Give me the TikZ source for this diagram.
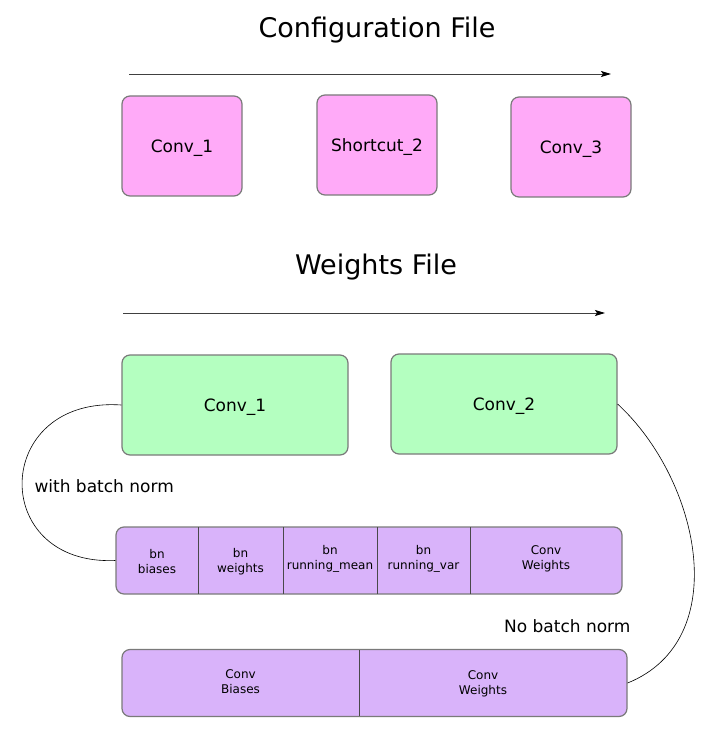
\documentclass[tikz,border=0pt]{standalone}
\usepackage{fontspec}
\setmainfont{DejaVu Sans}
\usetikzlibrary{arrows.meta}

\definecolor{cfgpink}{HTML}{FFAAF8}
\definecolor{wgtgreen}{HTML}{B4FFC0}
\definecolor{bufpurple}{HTML}{D9B3FA}
\definecolor{boxedge}{HTML}{7A7A7A}

\tikzset{
    layerbox/.style={draw=boxedge, line width=1.2pt, rounded corners=8pt, inner sep=0pt},
    cfgbox/.style={layerbox, fill=cfgpink, minimum width=120pt, minimum height=100pt, text depth=0pt, font=\fontsize{17}{20}\selectfont},
    wgtbox/.style={layerbox, fill=wgtgreen, minimum width=226pt, minimum height=100pt, text depth=0pt, font=\fontsize{17}{20}\selectfont},
    bufbar/.style={layerbox, fill=bufpurple, minimum height=67pt},
    celltext/.style={align=center, font=\fontsize{12}{15}\selectfont},
    titletext/.style={font=\fontsize{27}{32}\selectfont},
    notetext/.style={font=\fontsize{17}{20}\selectfont},
    flowarrow/.style={draw=black!75, line width=0.9pt, -{Stealth[length=10pt,width=6pt,inset=2pt,black]}}
}

\begin{document}
\begin{tikzpicture}[x=1pt, y=-1pt]
    \useasboundingbox (0,0) rectangle (719,743);

    % configuration file
    \node[titletext] (cfgtitle) at (377,30) {Configuration File};
    \coordinate (cfgstart) at (129,74);
    \coordinate (cfgend) at (611,74);
    \draw[flowarrow] (cfgstart) -- (cfgend);

    \node[cfgbox] (cconv1) at (182,146) {Conv\_1};
    \node[cfgbox] (cshort2) at (377,145) {Shortcut\_2};
    \node[cfgbox] (cconv3) at (571,147) {Conv\_3};

    % weights file
    \node[titletext] (wgttitle) at (376,267) {Weights File};
    \coordinate (wgtstart) at (123,313);
    \coordinate (wgtend) at (605,313);
    \draw[flowarrow] (wgtstart) -- (wgtend);

    \node[wgtbox] (wconv1) at (235,405) {Conv\_1};
    \node[wgtbox] (wconv2) at (504,404) {Conv\_2};

    % with batch norm
    \node[bufbar, minimum width=506pt] (bnbar) at (369,560.5) {};
    \foreach \xdiv in {198,283,377,470}
        \draw[boxedge!60!black, line width=0.9pt] (\xdiv,527) -- (\xdiv,594);
    \node[celltext] (bnbias) at (157,562) {bn\\biases};
    \node[celltext] (bnweight) at (240.5,562) {bn\\weights};
    \node[celltext] (bnmean) at (330,558.5) {bn\\running\_mean};
    \node[celltext] (bnvar) at (423.5,558.5) {bn\\running\_var};
    \node[celltext] (bnconvw) at (546,558.5) {Conv\\Weights};

    \node[notetext, anchor=west] (withbn) at (31,486) {with batch norm};
    \draw[line width=0.6pt] (wconv1.west) .. controls (-8,396) and (-12,566) .. (bnbar.west);

    % no batch norm
    \node[bufbar, minimum width=505pt] (convbar) at (374.5,683) {};
    \draw[boxedge!60!black, line width=0.9pt] (359,650) -- (359,716);
    \node[celltext] (convbias) at (240.5,682) {Conv\\Biases};
    \node[celltext] (convw) at (483,684) {Conv\\Weights};

    \node[notetext, anchor=east] (nobn) at (634,626) {No batch norm};
    \draw[line width=0.6pt] (wconv2.east) .. controls (700,480) and (734,640) .. (convbar.east);
\end{tikzpicture}
\end{document}
